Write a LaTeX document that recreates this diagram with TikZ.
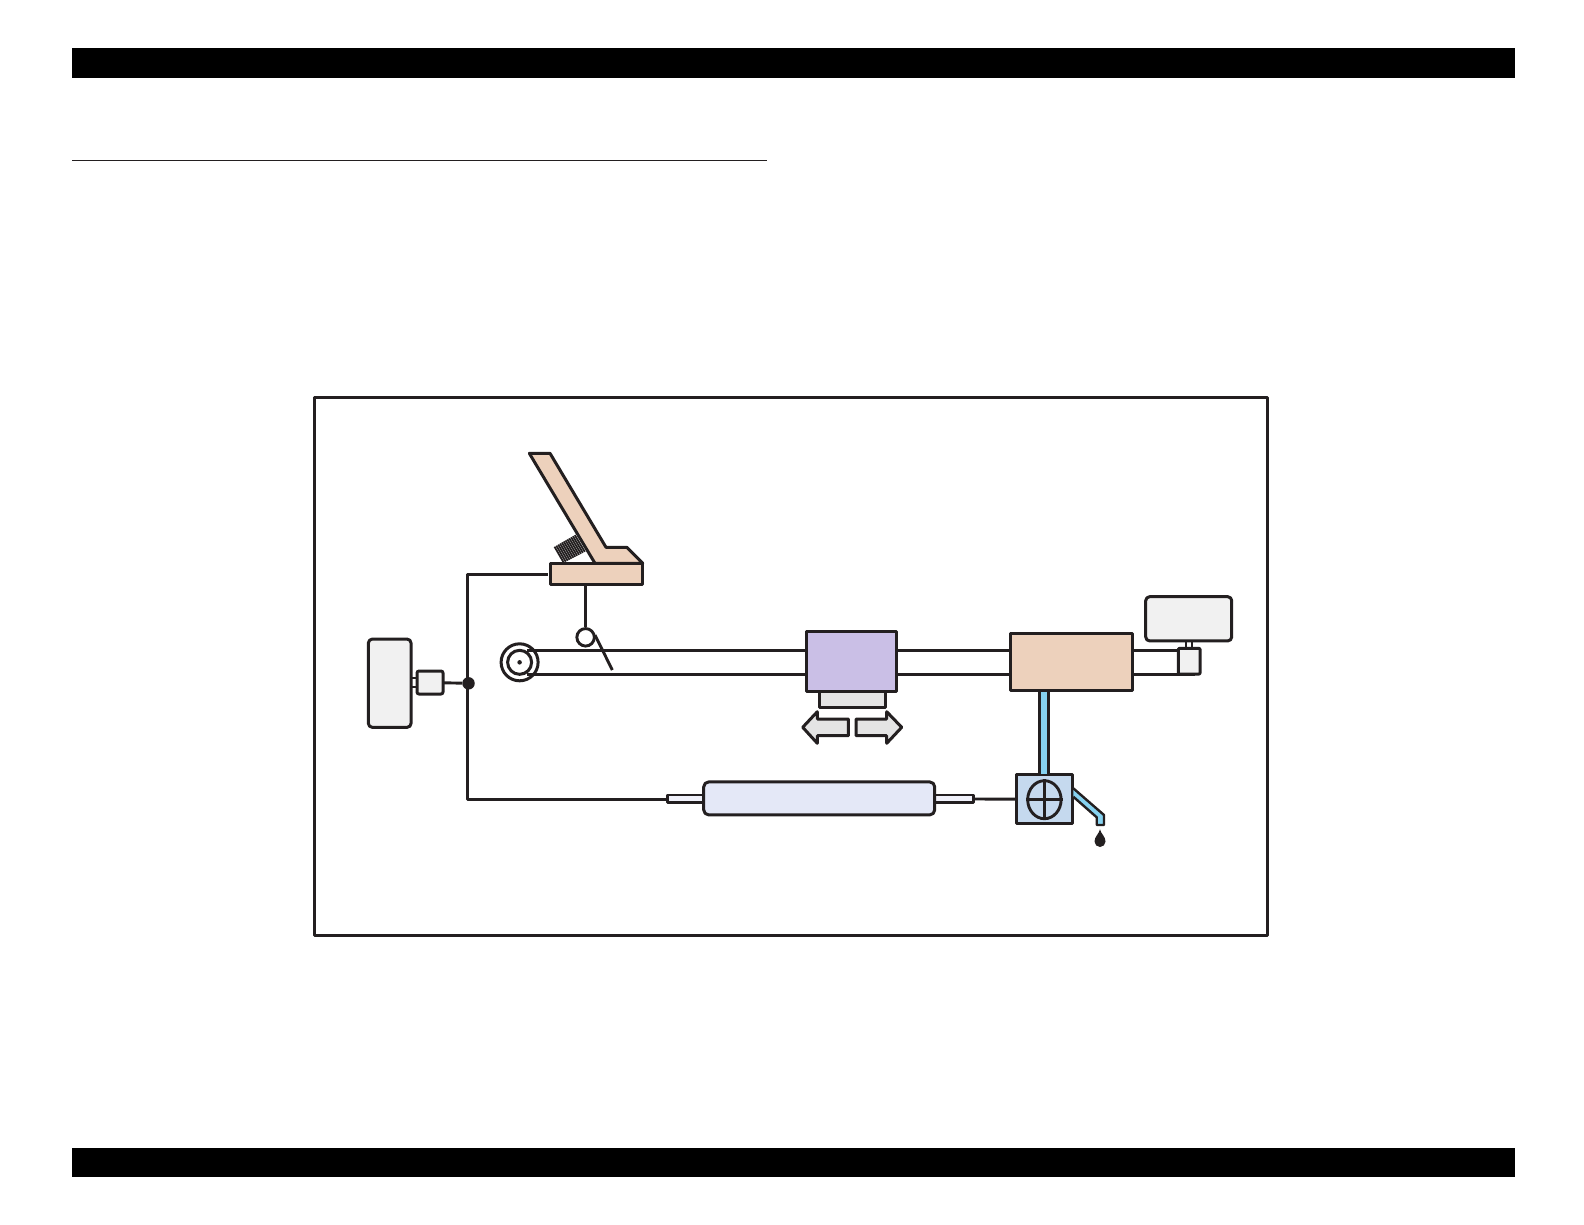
\documentclass[tikz,border=0pt]{standalone}
\usetikzlibrary{calc,shapes.geometric}
\definecolor{inkline}{HTML}{231F20}
\definecolor{peachfill}{HTML}{EDD1BC}
\definecolor{carriagefill}{HTML}{CABFE6}
\definecolor{unitfill}{HTML}{F1F1F1}
\definecolor{arrowfill}{HTML}{E4E4E4}
\definecolor{rollerfill}{HTML}{E4E8F7}
\definecolor{stubfill}{HTML}{F0F1FA}
\definecolor{pumpfill}{HTML}{C5D9EE}
\definecolor{pipefill}{HTML}{86D2F0}
\tikzset{
  wire/.style={draw=inkline,line width=2.9pt},
  part/.style={draw=inkline,line width=3pt,inner sep=0pt,outer sep=0pt,rectangle,line join=round},
  unit node/.style={part,fill=unitfill,rounded corners=4pt},
  bar/.style={fill=black,draw=none,inner sep=0pt,outer sep=0pt,minimum width=1443pt,minimum height=29.5pt},
}
\begin{document}
\begin{tikzpicture}[x=1pt,y=-1pt]
    \useasboundingbox (0,0) rectangle (1584,1224);

    \node[bar] (topbar) at (793.5,63) {};
    \node[bar] (bottombar) at (793.5,1162.6) {};
    \coordinate (rulestart) at (72,160.3);
    \coordinate (ruleend) at (767,160.3);
    \draw[draw=inkline,line width=0.9pt] (rulestart) -- (ruleend);
    \node[part,fill=none,minimum width=952.5pt,minimum height=538.5pt] (frame) at (790.8,666.7) {};

    % belt behind the boxes
    \coordinate (belttopstart) at (527,650.3);
    \coordinate (belttopend) at (1178,650.3);
    \coordinate (beltlowstart) at (527,674.7);
    \coordinate (beltlowend) at (1195,674.7);
    \draw[wire] (belttopstart) -- (belttopend);
    \draw[wire] (beltlowstart) -- (beltlowend);

    \node[circle,wire,line width=3pt,inner sep=0pt,minimum size=37pt] (pulleyouter) at (519.6,662.3) {};
    \node[circle,wire,line width=3pt,inner sep=0pt,minimum size=24pt] (pulleyinner) at (519.6,662.3) {};
    \node[circle,fill=inkline,inner sep=0pt,minimum size=4.5pt] (pulleyhub) at (519.6,662.3) {};

    % lever arm and base
    \node[part,fill=peachfill,minimum width=92pt,minimum height=20.7pt] (leverbase) at (596.7,574.3) {};
    \draw[part,fill=peachfill] (529.3,453.3) -- (550,453.3) -- (606,547.3) -- (626.7,547.3)
        -- (642.7,563.3) -- (595,563.3) -- cycle;
    \coordinate (springlowa) at (554.5,546.7);
    \coordinate (springlowb) at (563.8,562.7);
    \coordinate (springtopa) at (575,535);
    \coordinate (springtopb) at (585,551.7);
    \foreach \t in {0,0.09,...,1.0}
        \draw[inkline,line width=1.8pt] ($(springlowa)!\t!(springtopa)$) -- ($(springlowb)!\t!(springtopb)$);

    \node[circle,wire,fill=white,inner sep=0pt,minimum size=17.5pt] (detector) at (585.6,637.3) {};
    \coordinate (flagstart) at (595,635);
    \coordinate (flagend) at (612.3,670);
    \draw[wire] (leverbase.south -| detector) -- (detector);
    \draw[wire] (flagstart) -- (flagend);

    % left unit and wiring
    \node[unit node,minimum width=42.7pt,minimum height=88.3pt] (motor) at (389.7,683.2) {};
    \node[unit node,rounded corners=2pt,minimum width=26pt,minimum height=23pt] (clutch) at (430,682.5) {};
    \coordinate (shafta) at (0,678.3);
    \coordinate (shaftb) at (0,687.3);
    \draw[wire,line width=2pt] (motor.east |- shafta) -- (clutch.west |- shafta);
    \draw[wire,line width=2pt] (motor.east |- shaftb) -- (clutch.west |- shaftb);
    \node[circle,fill=inkline,inner sep=0pt,minimum size=12.5pt] (junction) at (468.5,683.3) {};
    \coordinate (wirecornertop) at (467.2,574.3);
    \coordinate (wirecornerlow) at (467.2,799.3);
    \coordinate (wireend) at (667.5,799.3);
    \draw[wire] (clutch) -- (junction);
    \draw[wire,line join=round] ([xshift=-3pt]leverbase.west) -- (wirecornertop) -- (wirecornerlow) -- (wireend);

    % carriage
    \node[part,fill=arrowfill,minimum width=66pt,minimum height=16pt] (capbase) at (852,699.7) {};
    \node[part,fill=carriagefill,minimum width=90pt,minimum height=60pt] (carriage) at (851.5,661.7) {};
    \draw[part,fill=arrowfill] (802.7,727.3) -- (817.3,711.7) -- (817.3,719) -- (848.3,719)
        -- (848.3,735.7) -- (817.3,735.7) -- (817.3,743.3) -- cycle;
    \draw[part,fill=arrowfill] (901.7,727.3) -- (886.7,711.7) -- (886.7,719) -- (856,719)
        -- (856,735.7) -- (886.7,735.7) -- (886.7,743.3) -- cycle;

    % right side units
    \node[part,fill=peachfill,minimum width=122pt,minimum height=57.4pt] (capping) at (1071.7,662) {};
    \node[unit node,minimum width=86pt,minimum height=44.3pt] (sensorunit) at (1188.7,618.8) {};
    \node[unit node,rounded corners=1pt,minimum width=21.7pt,minimum height=25.7pt] (idler) at (1189.2,661.2) {};
    \coordinate (linka) at (1185.7,0);
    \coordinate (linkb) at (1192.3,0);
    \draw[wire,line width=2pt] (sensorunit.south -| linka) -- (idler.north -| linka);
    \draw[wire,line width=2pt] (sensorunit.south -| linkb) -- (idler.north -| linkb);

    % pump and roller
    \node[part,fill=pumpfill,minimum width=56pt,minimum height=49pt] (pump) at (1044.7,799.3) {};
    \node[part,fill=pipefill,line width=2.6pt,minimum width=9pt,minimum height=84.3pt] (pipe) at (1043.8,732.9) {};
    \node[ellipse,wire,inner sep=0pt,minimum width=33.4pt,minimum height=38pt] (pumpwheel) at (1044.4,799.7) {};
    \draw[wire] (pumpwheel.north) -- (pumpwheel.south);
    \draw[wire] (pumpwheel.west) -- (pumpwheel.east);
    \draw[part,line width=2.4pt,fill=pipefill] (1073.3,788.3) -- (1104,815) -- (1104,825) -- (1096.7,825)
        -- (1096.7,817.3) -- (1073.3,796.7);
    \coordinate (droptip) at (1100,829.3);
    \fill[inkline] (droptip) .. controls (1101,834) and (1105.5,836.5) .. (1105.5,841.5)
        arc[start angle=0,end angle=-180,radius=5.5pt]
        .. controls (1094.5,836.5) and (1099,834) .. (droptip);

    \node[part,fill=stubfill,line width=2.6pt,minimum width=35.5pt,minimum height=7.7pt] (stubleft) at (685.5,798.9) {};
    \node[part,fill=stubfill,line width=2.6pt,minimum width=38.6pt,minimum height=7.7pt] (stubright) at (954.3,798.9) {};
    \node[part,fill=rollerfill,rounded corners=5pt,minimum width=231pt,minimum height=33pt] (roller) at (819.2,798.4) {};
    \draw[wire] (stubright) -- (pump);
\end{tikzpicture}
\end{document}
